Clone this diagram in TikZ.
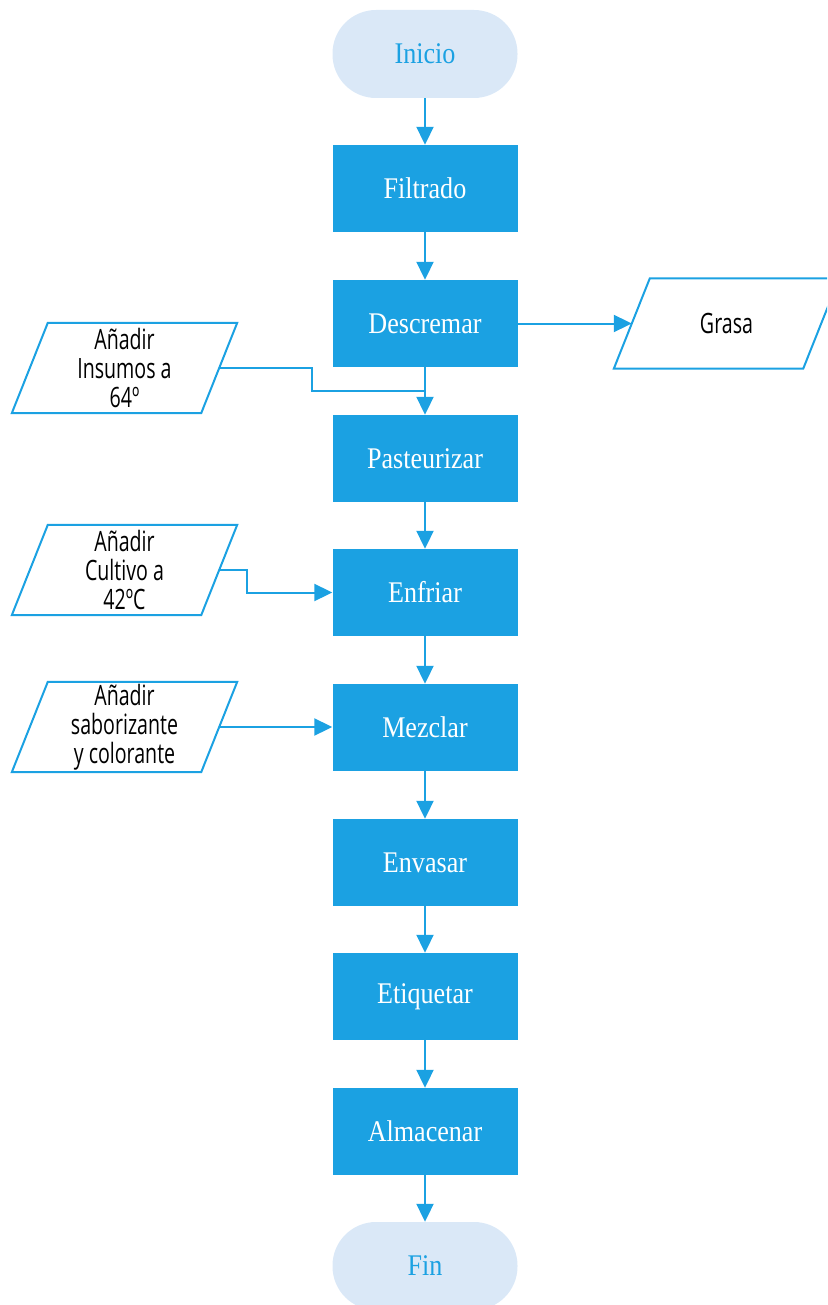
\documentclass[tikz,border=0pt]{standalone}
\usepackage{fontspec}
\setmainfont[FakeStretch=0.87]{Liberation Serif}
\newfontfamily\iofont[FakeStretch=0.7]{Open Sans}
\usetikzlibrary{arrows.meta}
\definecolor{boxblue}{RGB}{27,161,226}
\definecolor{termfill}{RGB}{218,232,247}
\newcommand\parashape[1]{\draw[paraline] ([xshift=18pt]#1.north west) -- ([xshift=18pt]#1.north east) -- ([xshift=-18pt]#1.south east) -- ([xshift=-18pt]#1.south west) -- cycle;}
\begin{document}
\begin{tikzpicture}[x=1pt,y=-1pt,
 proc/.style={rectangle,fill=boxblue,minimum width=185pt,minimum height=87pt,inner sep=0pt,text=white,font=\fontsize{30}{34}\selectfont},
 term/.style={rectangle,rounded corners=43.5pt,fill=termfill,minimum width=185pt,minimum height=88pt,inner sep=0pt,text=boxblue,font=\fontsize{30}{34}\selectfont},
 io/.style={rectangle,minimum width=189pt,minimum height=90pt,inner sep=0pt,align=center,font=\iofont\fontsize{28}{29}\selectfont},
 paraline/.style={draw=boxblue,line width=2pt},
 flow/.style={draw=boxblue,line width=2pt,-{Triangle[length=18pt,width=17pt]}},
 link/.style={draw=boxblue,line width=2pt}]
\useasboundingbox (0,0) rectangle (827,1305);
\clip (0,0) rectangle (827,1305);
\node[term] (inicio) at (425,54) {Inicio};
\node[proc] (filtrado) at (425,188.5) {Filtrado};
\node[proc] (descremar) at (425,323.5) {Descremar};
\node[proc] (pasteurizar) at (425,458.5) {Pasteurizar};
\node[proc] (enfriar) at (425,592.5) {Enfriar};
\node[proc] (mezclar) at (425,727.5) {Mezclar};
\node[proc] (envasar) at (425,862.5) {Envasar};
\node[proc] (etiquetar) at (425,996.5) {Etiquetar};
\node[proc] (almacenar) at (425,1131.5) {Almacenar};
\node[term] (fin) at (425,1266) {Fin};
\node[io] (insumos) at (124.5,368) {Añadir\\Insumos a\\64º};
\node[io] (cultivo) at (124.5,570) {Añadir\\Cultivo a\\42ºC};
\node[io] (sabor) at (124.5,727) {Añadir\\saborizante\\y colorante};
\node[io] (grasa) at (726.5,323.5) {Grasa};
\parashape{insumos}
\parashape{cultivo}
\parashape{sabor}
\parashape{grasa}
\coordinate (j1) at (425,391);
\draw[flow] (inicio) -- (filtrado);
\draw[flow] (filtrado) -- (descremar);
\draw[flow] (descremar) -- (pasteurizar);
\draw[flow] (pasteurizar) -- (enfriar);
\draw[flow] (enfriar) -- (mezclar);
\draw[flow] (mezclar) -- (envasar);
\draw[flow] (envasar) -- (etiquetar);
\draw[flow] (etiquetar) -- (almacenar);
\draw[flow] (almacenar) -- (fin);
\draw[flow] (descremar.east) -- (grasa.west);
\draw[link] (insumos.east) -- (312,368) |- (j1);
\draw[flow] (cultivo.east) -- (247,570) |- (enfriar.west);
\draw[flow] (sabor.east) -- (sabor.east -| mezclar.west);
\end{tikzpicture}
\end{document}
